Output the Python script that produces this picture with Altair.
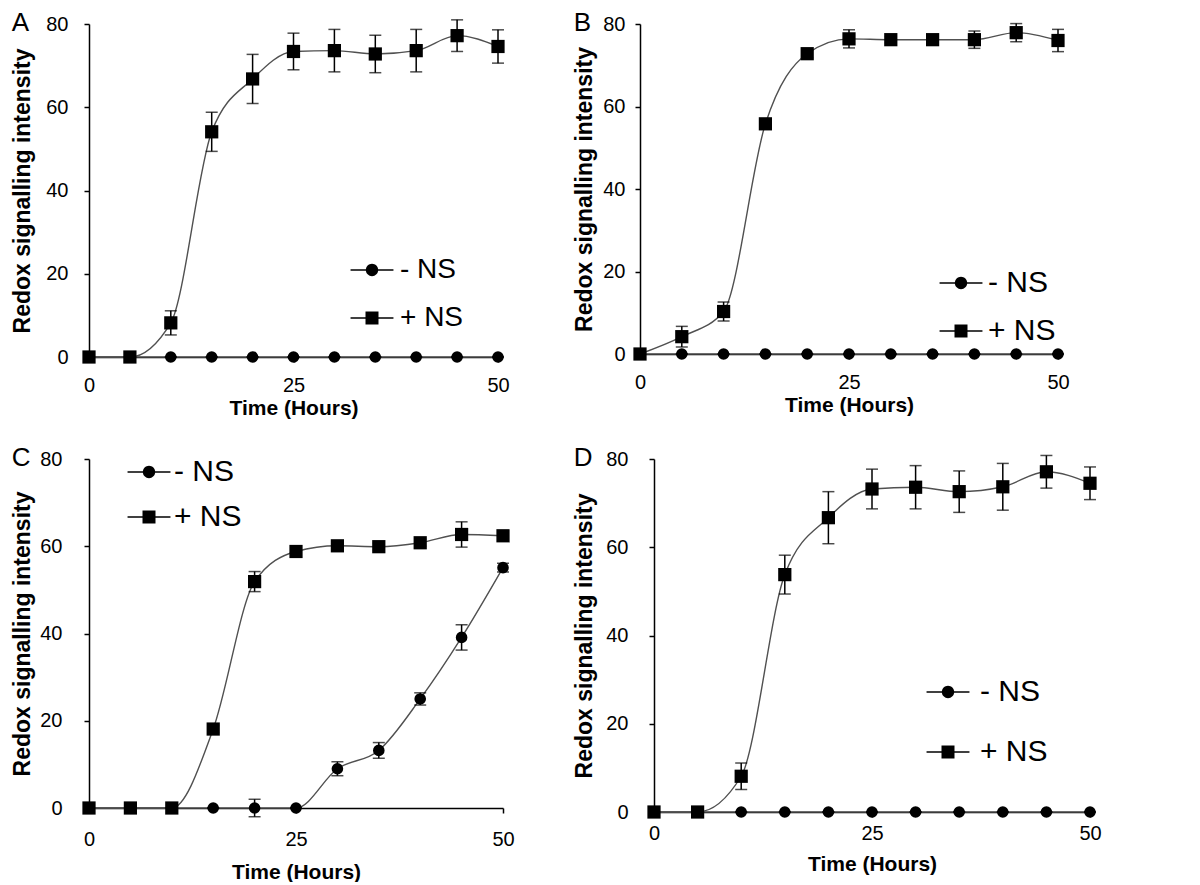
import altair as alt
import pandas as pd

time_h = [0, 5, 10, 15, 20, 25, 30, 35, 40, 45, 50]
series_names = ["- NS", "+ NS"]

# Panel A
a_minus = [0, 0, 0, 0, 0, 0, 0, 0, 0, 0, 0]
a_minus_err = [0, 0, 0, 0, 0, 0, 0, 0, 0, 0, 0]
a_plus = [0, 0, 8.2, 54.1, 66.8, 73.4, 73.6, 72.8, 73.6, 77.2, 74.6]
a_plus_err = [0, 0, 2.9, 4.7, 5.9, 4.4, 5.1, 4.5, 5.1, 3.8, 4.0]

# Panel B
b_minus = [0, 0, 0, 0, 0, 0, 0, 0, 0, 0, 0]
b_minus_err = [0, 0, 0, 0, 0, 0, 0, 0, 0, 0, 0]
b_plus = [0, 4.2, 10.3, 55.8, 72.8, 76.4, 76.2, 76.2, 76.2, 77.9, 76.0]
b_plus_err = [0, 2.5, 2.3, 0.8, 1.0, 2.2, 0.8, 0.8, 2.1, 2.2, 2.7]

# Panel C
c_minus = [0, 0, 0, 0, 0, 0, 9.0, 13.2, 25.0, 39.1, 55.1]
c_minus_err = [0, 0, 0, 0, 2.0, 0, 1.6, 1.8, 1.4, 2.9, 1.0]
c_plus = [0, 0, 0, 18.1, 51.9, 58.8, 60.1, 59.9, 60.8, 62.7, 62.4]
c_plus_err = [0, 0, 0, 0.8, 2.3, 0.8, 0.8, 0.8, 0.8, 2.9, 0.8]

# Panel D
d_minus = [0, 0, 0, 0, 0, 0, 0, 0, 0, 0, 0]
d_minus_err = [0, 0, 0, 0, 0, 0, 0, 0, 0, 0, 0]
d_plus = [0, 0, 8.1, 53.8, 66.7, 73.2, 73.6, 72.6, 73.7, 77.1, 74.5]
d_plus_err = [0, 0, 3.0, 4.4, 5.9, 4.5, 4.9, 4.7, 5.3, 3.7, 3.7]

y_ticks = [0, 20, 40, 60, 80]
x_ticks = [0, 25, 50]

FONT = "Liberation Sans"
CIRC_LEG = "M0.95,0A0.95,0.95,0,1,1,-0.95,0A0.95,0.95,0,1,1,0.95,0Z"
SQ_LEG = "M-1,-1H1V1H-1Z"
LINE_LEG = "M-3.3,0H3.3"


def make_df(minus, minus_err, plus, plus_err):
    rows = []
    for name, vals, errs in [(series_names[0], minus, minus_err), (series_names[1], plus, plus_err)]:
        for t, v, e in zip(time_h, vals, errs):
            rows.append({"t": t, "v": v, "lo": v - e, "hi": v + e, "series": name})
    return pd.DataFrame(rows)


def panel(df, letter, w, h, yl_pad, yt_pad, xl_pad, xt_pad, lx, ly, lfs, lrow, loff):
    xs = alt.Scale(domain=[0, 50], nice=False, zero=True)
    ys = alt.Scale(domain=[0, 80], nice=False)
    xaxis = alt.Axis(values=x_ticks, title="Time (Hours)", labelPadding=xl_pad,
                     titlePadding=xt_pad, labelFlush=False)
    yaxis = alt.Axis(values=y_ticks, title="Redox signalling intensity",
                     labelPadding=yl_pad, titlePadding=yt_pad, labelFlush=False)
    X = lambda f: alt.X(f, type="quantitative", scale=xs, axis=xaxis, title="Time (Hours)")
    Y = lambda f: alt.Y(f, type="quantitative", scale=ys, axis=yaxis, title="Redox signalling intensity")
    base = alt.Chart(df)
    line = base.mark_line(interpolate="monotone", color="#505050", strokeWidth=1.4).encode(
        x=X("t"), y=Y("v"), detail="series:N")
    rule = base.mark_rule(color="black", strokeWidth=1.5).encode(x=X("t"), y=Y("lo"), y2="hi")
    tick_lo = base.mark_tick(orient="horizontal", size=12, thickness=1.5, color="black").encode(
        x=X("t"), y=Y("lo"))
    tick_hi = base.mark_tick(orient="horizontal", size=12, thickness=1.5, color="black").encode(
        x=X("t"), y=Y("hi"))
    pts_minus = base.transform_filter(alt.datum.series == series_names[0]).mark_point(
        shape="circle", size=135, filled=True, color="black", opacity=1).encode(x=X("t"), y=Y("v"))
    pts_plus = base.transform_filter(alt.datum.series == series_names[1]).mark_point(
        shape="square", size=175, filled=True, color="black", opacity=1).encode(x=X("t"), y=Y("v"))

    def leg_kw(label_opacity):
        return dict(orient="none", legendX=lx, legendY=ly, title=None,
                    labelFontSize=lfs, labelFont=FONT, labelColor="black",
                    labelOpacity=label_opacity, symbolSize=169, symbolOpacity=1,
                    labelOffset=loff, rowPadding=lrow, padding=0, labelLimit=200)

    leg_marks = base.mark_point(filled=True, color="black", opacity=0).encode(
        x=X("t"), y=Y("v"),
        shape=alt.Shape("series:N", scale=alt.Scale(domain=series_names, range=[CIRC_LEG, SQ_LEG]),
                        legend=alt.Legend(symbolFillColor="black", **leg_kw(1))))
    leg_lines = base.mark_point(filled=False, color="black", strokeWidth=1.5, opacity=0).encode(
        x=X("t"), y=Y("v"),
        strokeDash=alt.StrokeDash("series:N",
                                  scale=alt.Scale(domain=series_names, range=[[1, 0], [1, 0]]),
                                  legend=None),
        shape=alt.Shape("series:N", scale=alt.Scale(domain=series_names, range=[LINE_LEG, LINE_LEG]),
                        legend=alt.Legend(symbolStrokeColor="black", symbolStrokeWidth=1.5,
                                          symbolFillColor="transparent", **leg_kw(0))))
    layered = alt.layer(line, rule, tick_lo, tick_hi, pts_minus, pts_plus, leg_lines, leg_marks)
    layered = layered.resolve_scale(shape="independent").resolve_legend(shape="independent")
    return layered.properties(
        width=w, height=h,
        title=alt.TitleParams(letter, anchor="start", frame="bounds", fontSize=26,
                              fontWeight="normal", font=FONT, color="black", offset=-22))


pa = panel(make_df(a_minus, a_minus_err, a_plus, a_plus_err), "A", 409, 333,
           16, 11, 13, 2, 269, 232, 28, 20, 14)
pb = panel(make_df(b_minus, b_minus_err, b_plus, b_plus_err), "B", 418, 330,
           10, 6, 13, 2, 306, 244, 30, 18, 12)
pc = panel(make_df(c_minus, c_minus_err, c_plus, c_plus_err), "C", 414, 349,
           22, 5, 16, 12, 45, -2, 30, 15, 10)
pd_ = panel(make_df(d_minus, d_minus_err, d_plus, d_plus_err), "D", 436, 353,
            21, 9, 6, 10, 279, 218, 30, 30, 17)

chart = alt.concat(pa, pb, pc, pd_, columns=2, spacing={"row": 27, "column": 58},
                   align="none").resolve_scale(shape="independent").resolve_legend(
    shape="independent").properties(
    padding={"left": 3, "top": 2, "right": 5, "bottom": 0}
).configure_view(stroke=None).configure_axis(
    grid=False, domainColor="black", domainWidth=1.5, tickColor="black", tickWidth=1.5, tickSize=5,
    labelColor="black", titleColor="black", labelFont=FONT, titleFont=FONT,
    labelFontSize=20, titleFontSize=21, titleFontWeight="bold"
).configure_axisY(titleFontSize=23)

chart.save("out.html", embed_options={"renderer": "svg", "actions": False})
